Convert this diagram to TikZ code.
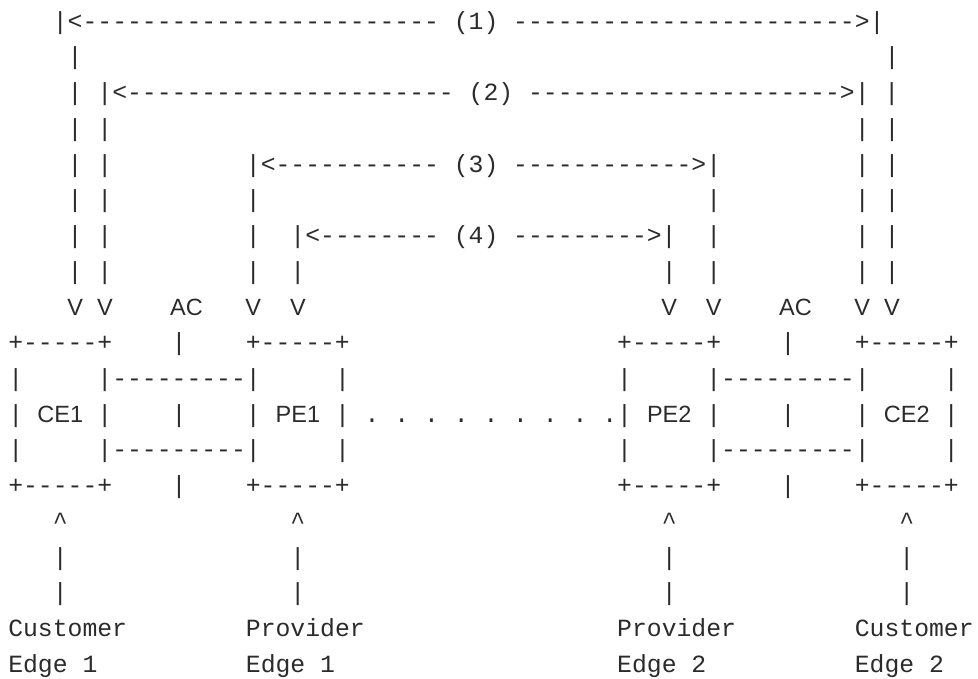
\documentclass[tikz,border=0pt]{standalone}
\usepackage{fontspec}
\setmonofont{Liberation Mono}
\setsansfont{Liberation Sans}
\definecolor{ink}{HTML}{2B2B2B}

% one character cell of the monospaced grid
\newlength\cw
\setlength\cw{14.852pt}
\newcommand\sk[1]{\hspace*{#1\cw}}
% centred sans-serif label occupying #1 cells
\newcommand\sv[2]{\makebox[#1\cw][c]{\sffamily\fontsize{23.5}{23.5}\selectfont #2}}
\newcommand\V{\sv{1}{V}}
\newcommand\crt{\textasciicircum}
\ExplSyntaxOn
\NewDocumentCommand\dd{m}{\prg_replicate:nn{#1}{-}}
\NewDocumentCommand\dotrun{m}{\prg_replicate:nn{#1}{\sk{1}.}}
\ExplSyntaxOff

\tikzset{
  rowtext/.style={anchor=base west, inner sep=0pt, outer sep=0pt, text=ink,
    font=\ttfamily\fontsize{24.75}{30}\selectfont},
}

\begin{document}
\begin{tikzpicture}[x=1pt,y=1pt]
\fill[white] (0,0) rectangle (978,678);
\useasboundingbox (0,0) rectangle (978,678);

% scope arrows (1)-(4)
\node[rowtext] (row0) at (8.3,648.9) {\sk{3}|<\dd{24}\sk{1}(1)\sk{1}\dd{23}>|};
\node[rowtext] (row1) at (8.3,613.16) {\sk{4}|\sk{54}|};
\node[rowtext] (row2) at (8.3,577.42) {\sk{4}|\sk{1}|<\dd{22}\sk{1}(2)\sk{1}\dd{21}>|\sk{1}|};
\node[rowtext] (row3) at (8.3,541.68) {\sk{4}|\sk{1}|\sk{50}|\sk{1}|};
\node[rowtext] (row4) at (8.3,505.94) {\sk{4}|\sk{1}|\sk{9}|<\dd{11}\sk{1}(3)\sk{1}\dd{12}>|\sk{9}|\sk{1}|};
\node[rowtext] (row5) at (8.3,470.2) {\sk{4}|\sk{1}|\sk{9}|\sk{30}|\sk{9}|\sk{1}|};
\node[rowtext] (row6) at (8.3,434.46) {\sk{4}|\sk{1}|\sk{9}|\sk{2}|<\dd{8}\sk{1}(4)\sk{1}\dd{9}>|\sk{2}|\sk{9}|\sk{1}|};
\node[rowtext] (row7) at (8.3,398.72) {\sk{4}|\sk{1}|\sk{9}|\sk{2}|\sk{24}|\sk{2}|\sk{9}|\sk{1}|};
\node[rowtext] (row8) at (8.3,362.98) {\sk{4}\V\sk{1}\V\sk{4}\sv{2}{AC}\sk{3}\V\sk{2}\V\sk{24}\V\sk{2}\V\sk{4}\sv{2}{AC}\sk{3}\V\sk{1}\V};

% CE / PE boxes and attachment circuits
\node[rowtext] (row9) at (8.3,327.24) {+\dd{5}+\sk{4}|\sk{4}+\dd{5}+\sk{18}+\dd{5}+\sk{4}|\sk{4}+\dd{5}+};
\node[rowtext] (row10) at (8.3,291.5) {|\sk{5}|\dd{9}|\sk{5}|\sk{18}|\sk{5}|\dd{9}|\sk{5}|};
\node[rowtext] (row11) at (8.3,255.76) {|\sk{1}\sv{3}{CE1}\sk{1}|\sk{4}|\sk{4}|\sk{1}\sv{3}{PE1}\sk{1}|\dotrun{9}|\sk{1}\sv{3}{PE2}\sk{1}|\sk{4}|\sk{4}|\sk{1}\sv{3}{CE2}\sk{1}|};
\node[rowtext] (row12) at (8.3,220.02) {|\sk{5}|\dd{9}|\sk{5}|\sk{18}|\sk{5}|\dd{9}|\sk{5}|};
\node[rowtext] (row13) at (8.3,184.28) {+\dd{5}+\sk{4}|\sk{4}+\dd{5}+\sk{18}+\dd{5}+\sk{4}|\sk{4}+\dd{5}+};

% pointers to the edge labels
\node[rowtext] (row14) at (8.3,148.54) {\sk{3}\crt\sk{15}\crt\sk{24}\crt\sk{15}\crt};
\node[rowtext] (row15) at (8.3,112.8) {\sk{3}|\sk{15}|\sk{24}|\sk{15}|};
\node[rowtext] (row16) at (8.3,77.06) {\sk{3}|\sk{15}|\sk{24}|\sk{15}|};
\node[rowtext] (row17) at (8.3,41.32) {Customer\sk{8}Provider\sk{17}Provider\sk{8}Customer};
\node[rowtext] (row18) at (8.3,5.58) {Edge\sk{1}1\sk{10}Edge\sk{1}1\sk{19}Edge\sk{1}2\sk{10}Edge\sk{1}2};
\end{tikzpicture}
\end{document}
